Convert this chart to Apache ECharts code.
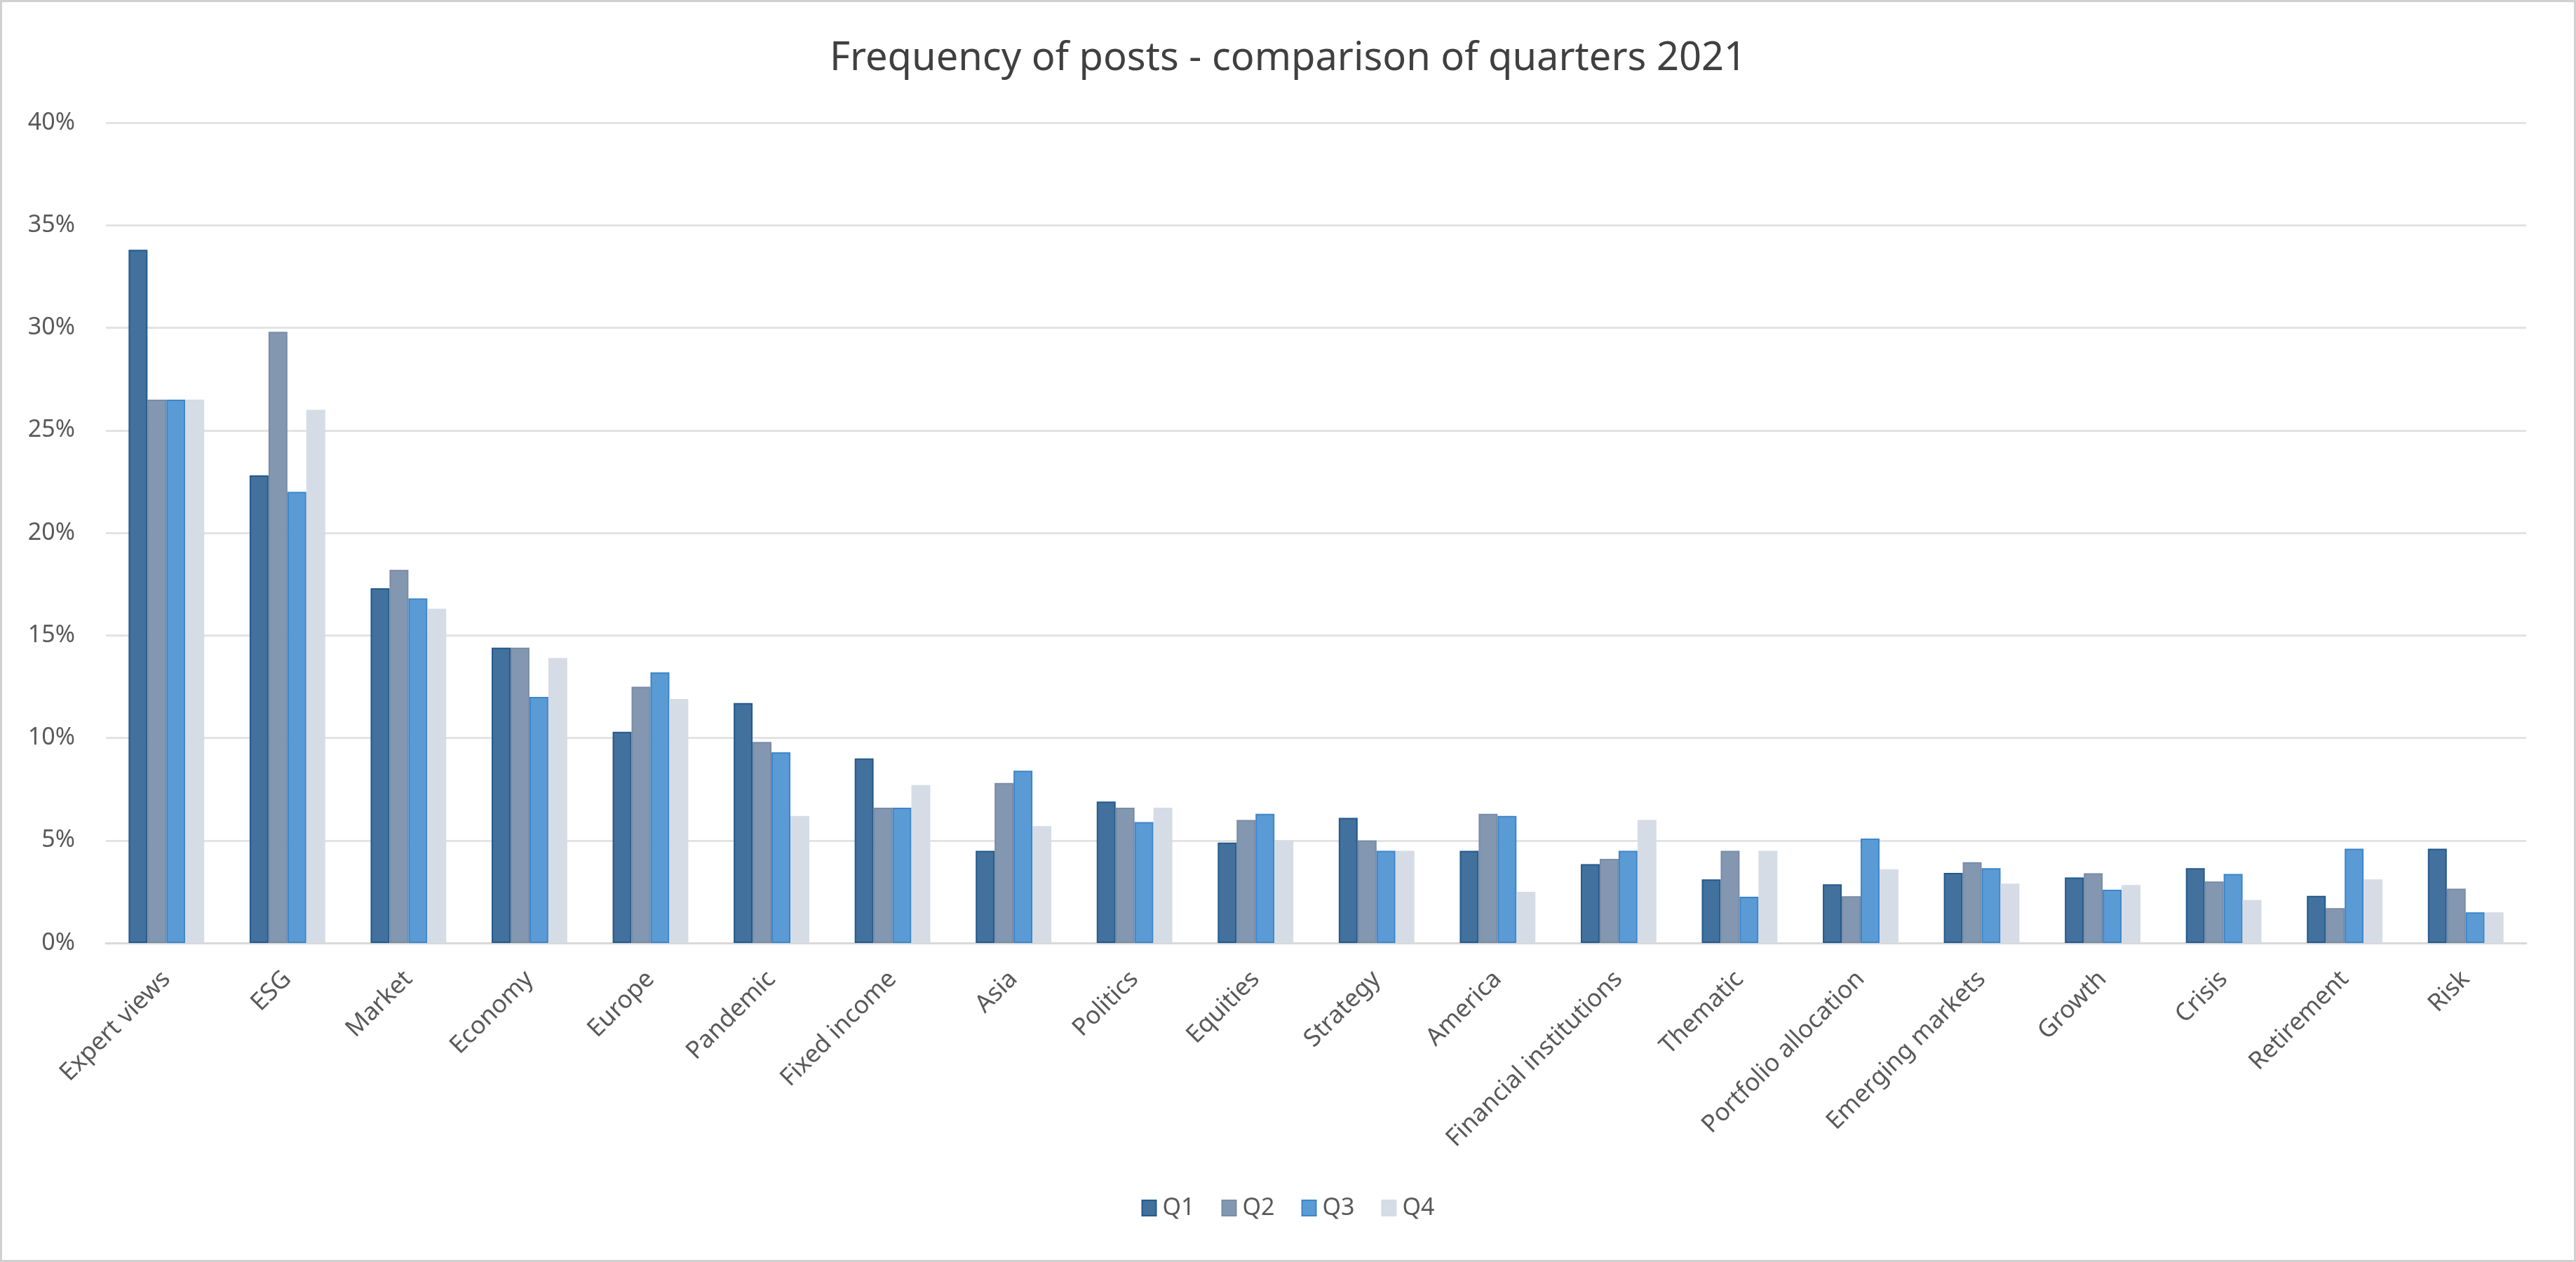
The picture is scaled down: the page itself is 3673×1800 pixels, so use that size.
<!DOCTYPE html>
<html>
<head>
<meta charset="utf-8">
<script src="https://cdn.jsdelivr.net/npm/echarts@6/dist/echarts.min.js"></script>
<style>
  html, body { margin: 0; padding: 0; background: #fff; }
  #main { width: 3673px; height: 1800px; box-sizing: border-box; border: 3px solid #d0d0d0; }
</style>
</head>
<body>
<div id="main"></div>
<script>
// topics, sorted as in the source chart
var categories = ['Expert views', 'ESG', 'Market', 'Economy', 'Europe', 'Pandemic', 'Fixed income', 'Asia',
    'Politics', 'Equities', 'Strategy', 'America', 'Financial institutions', 'Thematic',
    'Portfolio allocation', 'Emerging markets', 'Growth', 'Crisis', 'Retirement', 'Risk'];

// share of posts per quarter, in %
var q1 = [33.8, 22.8, 17.3, 14.4, 10.3, 11.7, 9.0, 4.5, 6.9, 4.9, 6.1, 4.5, 3.85, 3.1, 2.86, 3.42, 3.2, 3.65, 2.3, 4.6];
var q2 = [26.5, 29.8, 18.2, 14.4, 12.5, 9.8, 6.6, 7.8, 6.6, 6.0, 5.0, 6.3, 4.1, 4.5, 2.28, 3.94, 3.4, 3.0, 1.7, 2.65];
var q3 = [26.5, 22.0, 16.8, 12.0, 13.2, 9.3, 6.6, 8.4, 5.9, 6.3, 4.5, 6.2, 4.5, 2.26, 5.09, 3.65, 2.6, 3.37, 4.6, 1.5];
var q4 = [26.5, 26.0, 16.3, 13.9, 11.9, 6.2, 7.7, 5.7, 6.6, 5.0, 4.5, 2.5, 6.0, 4.5, 3.6, 2.9, 2.83, 2.09, 3.1, 1.5];

var seriesNames = ['Q1', 'Q2', 'Q3', 'Q4'];
var fills = ['#41719C', '#8497B0', '#5B9BD5', '#D6DCE5'];
var edges = ['#245a8c', '#7a8ca6', '#3d86c9', '#D6DCE5'];

var font = '"Noto Sans", "Open Sans", sans-serif';
var textColor = '#595959';

var myChart = echarts.init(document.getElementById('main'));

var series = [q1, q2, q3, q4].map(function (vals, i) {
    return {
        name: seriesNames[i],
        type: 'bar',
        data: vals,
        barGap: '0%',
        barCategoryGap: '37.5%',
        itemStyle: {
            color: fills[i],
            borderColor: edges[i],
            borderWidth: 2
        }
    };
});

var option = {
    backgroundColor: '#fff',
    title: {
        text: 'Frequency of posts - comparison of quarters 2021',
        left: 'center',
        top: 48,
        textStyle: {
            fontFamily: font,
            fontSize: 56,
            fontWeight: 'normal',
            color: '#404040'
        }
    },
    legend: {
        data: seriesNames,
        bottom: 52,
        left: 'center',
        icon: 'rect',
        itemWidth: 20,
        itemHeight: 22,
        itemGap: 38,
        textStyle: {
            fontFamily: font,
            fontSize: 34,
            color: textColor,
            padding: [0, 0, 0, 4]
        }
    },
    grid: {
        left: 148,
        right: 68,
        top: 172,
        bottom: 452
    },
    xAxis: {
        type: 'category',
        data: categories,
        axisTick: { show: false },
        axisLine: { lineStyle: { color: '#d9d9d9', width: 3 } },
        axisLabel: {
            interval: 0,
            rotate: 45,
            margin: 46,
            fontFamily: font,
            fontSize: 35,
            color: textColor
        }
    },
    yAxis: {
        type: 'value',
        min: 0,
        max: 40,
        interval: 5,
        axisLine: { show: false },
        axisTick: { show: false },
        splitLine: { lineStyle: { color: '#e3e3e3', width: 3 } },
        axisLabel: {
            formatter: '{value}%',
            margin: 44,
            fontFamily: font,
            fontSize: 34,
            color: textColor
        }
    },
    series: series
};

myChart.setOption(option);
</script>
</body>
</html>
